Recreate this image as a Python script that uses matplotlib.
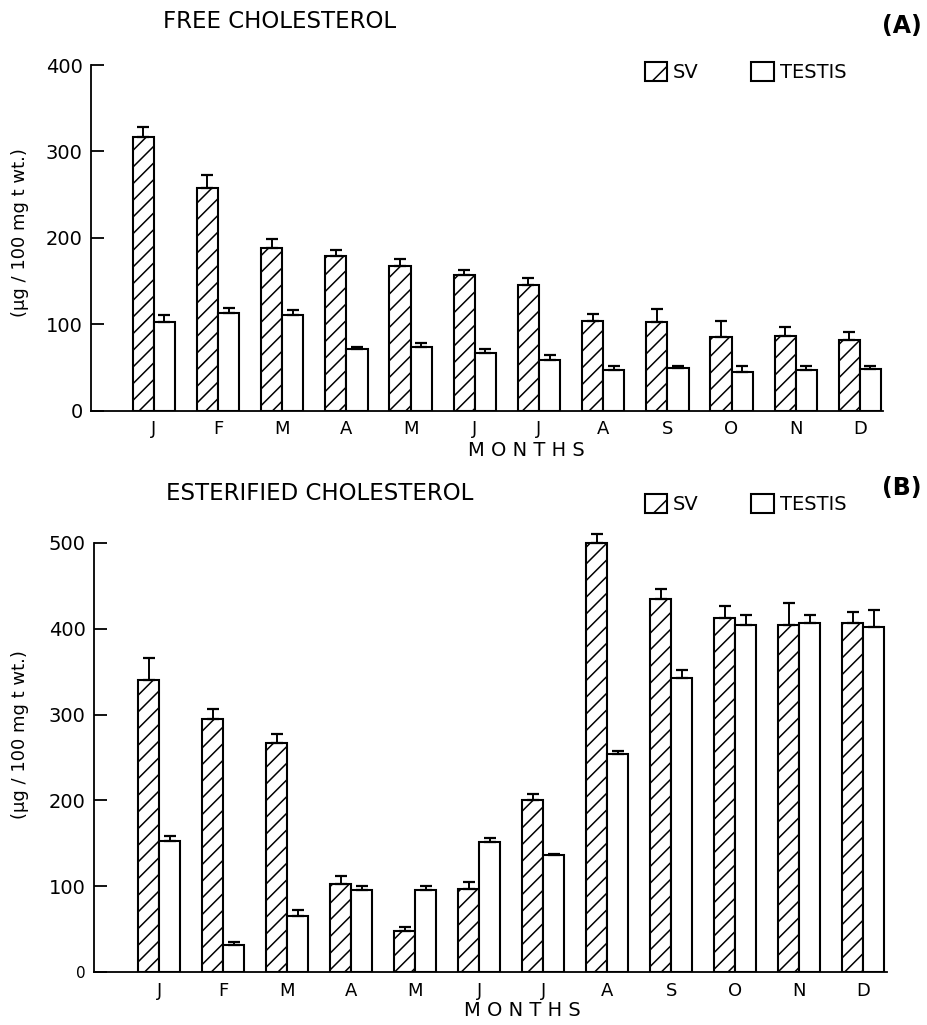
import numpy as np
import matplotlib
matplotlib.use("Agg")
import matplotlib.pyplot as plt
from matplotlib.patches import Patch

months = ["J", "F", "M", "A", "M", "J", "J", "A", "S", "O", "N", "D"]

# (A) free cholesterol, ug / 100 mg tissue wt.
free_sv = [317, 258, 188, 179, 167, 157, 145, 104, 102, 85, 86, 82]
free_sv_err = [11, 15, 11, 7, 8, 6, 8, 8, 15, 19, 11, 9]
free_testis = [103, 113, 110, 71, 74, 66, 59, 47, 49, 44, 47, 48]
free_testis_err = [7, 6, 6, 3, 4, 5, 5, 5, 3, 8, 4, 3]

# (B) esterified cholesterol
ester_sv = [340, 295, 267, 102, 48, 97, 200, 500, 435, 413, 404, 407]
ester_sv_err = [26, 11, 10, 10, 5, 8, 7, 10, 11, 14, 26, 13]
ester_testis = [153, 32, 65, 95, 95, 152, 136, 254, 343, 404, 407, 402]
ester_testis_err = [5, 3, 7, 5, 5, 4, 1, 3, 9, 12, 9, 20]

free_yticks = [0, 100, 200, 300, 400]
ester_yticks = [0, 100, 200, 300, 400, 500]

W, H = 927, 1025
plt.rcParams["font.family"] = ["DejaVu Sans"]
plt.rcParams["hatch.linewidth"] = 1.1


def draw_panel(ax, sv, sv_err, testis, testis_err, yticks, ytop, xlim):
    n = len(months)
    x = np.arange(n)
    w = 0.33
    ax.bar(x - w / 2, sv, w, facecolor="white", edgecolor="black",
           hatch="//", linewidth=1.5)
    ax.bar(x + w / 2, testis, w, facecolor="white", edgecolor="black",
           linewidth=1.5)
    zeros = np.zeros(n)
    ax.errorbar(x - w / 2, sv, yerr=[zeros, sv_err], fmt="none",
                ecolor="black", elinewidth=1.4, capsize=4.5, capthick=1.6)
    ax.errorbar(x + w / 2, testis, yerr=[zeros, testis_err], fmt="none",
                ecolor="black", elinewidth=1.4, capsize=4.5, capthick=1.6)

    ax.set_xlim(*xlim)
    ax.set_ylim(0, ytop)
    ax.spines["top"].set_visible(False)
    ax.spines["right"].set_visible(False)
    ax.spines["left"].set_bounds(0, yticks[-1])
    for s in ("left", "bottom"):
        ax.spines[s].set_linewidth(1.3)
    ax.set_xticks(x)
    ax.set_xticklabels(months, fontsize=13)
    ax.tick_params(axis="x", length=0, pad=7)
    ax.set_yticks(yticks)
    ax.set_yticklabels([str(t) for t in yticks], fontsize=14)
    ax.tick_params(axis="y", direction="in", length=9, width=1.3, pad=6)


fig = plt.figure(figsize=(W / 100, H / 100), dpi=100)

ax_a = fig.add_axes([91 / W, 1 - 410.5 / H, 792 / W, 345.5 / H])
draw_panel(ax_a, free_sv, free_sv_err, free_testis, free_testis_err,
           free_yticks, 400, (-0.98, 11.36))

ax_b = fig.add_axes([94 / W, 1 - 972 / H, 793 / W, 442 / H])
draw_panel(ax_b, ester_sv, ester_sv_err, ester_testis, ester_testis_err,
           ester_yticks, 515, (-1.02, 11.37))
ax_b.get_yticklabels()[0].set_fontsize(11)

handles = [Patch(facecolor="white", edgecolor="black", hatch="/", linewidth=1.5),
           Patch(facecolor="white", edgecolor="black", linewidth=1.5)]
for ax, top in ((ax_a, 62), (ax_b, 494)):
    ax.legend(handles, ["SV", "TESTIS"], loc="upper left",
              bbox_to_anchor=(645 / W, 1 - top / H), bbox_transform=fig.transFigure,
              ncol=2, frameon=False, fontsize=14, handlelength=1.15,
              handleheight=1.15, handletextpad=0.3, columnspacing=2.7,
              borderpad=0, borderaxespad=0)

fig.text(163 / W, 1 - 22 / H, "FREE CHOLESTEROL", fontsize=16.5,
         ha="left", va="center")
fig.text(166 / W, 1 - 494 / H, "ESTERIFIED CHOLESTEROL", fontsize=16.5,
         ha="left", va="center")
fig.text(902 / W, 1 - 26 / H, "(A)", fontsize=17, fontweight="bold",
         ha="center", va="center")
fig.text(902 / W, 1 - 488 / H, "(B)", fontsize=17, fontweight="bold",
         ha="center", va="center")
fig.text(526 / W, 1 - 450 / H, "M O N T H S", fontsize=14,
         ha="center", va="center")
fig.text(522 / W, 1 - 1011 / H, "M O N T H S", fontsize=14,
         ha="center", va="center")
fig.text(20 / W, 1 - 233 / H, "(µg / 100 mg t wt.)", fontsize=13,
         rotation=90, ha="center", va="center")
fig.text(20 / W, 1 - 735 / H, "(µg / 100 mg t wt.)", fontsize=13,
         rotation=90, ha="center", va="center")

fig.savefig("out.png", dpi=100)
